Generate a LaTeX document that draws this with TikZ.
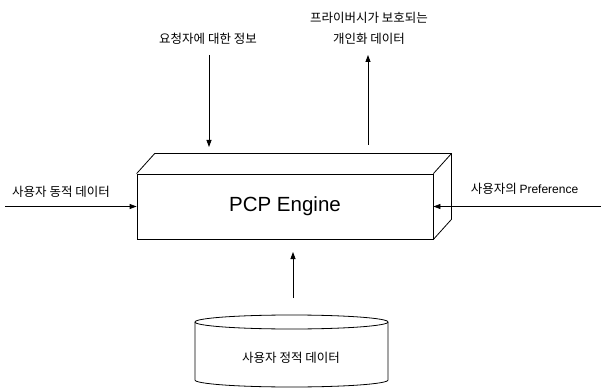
\documentclass[tikz,border=0pt]{standalone}
\usepackage{fontspec}
\setmainfont{Liberation Sans}
\newfontfamily\kr{Noto Sans CJK KR}
\usetikzlibrary{arrows.meta}
\begin{document}
\begin{tikzpicture}[x=1pt,y=1pt,
  line/.style={draw=black,line width=0.8pt},
  arr/.style={line, -{Triangle[length=7pt,width=5pt]}},
  lbl/.style={font=\kr\fontsize{12.5}{21}\selectfont, inner sep=0pt, align=center},
  engine/.style={draw=black,line width=0.8pt, minimum width=296pt, minimum height=65pt, inner sep=0pt,
    font=\fontsize{20.5}{24}\selectfont}]
\useasboundingbox (0,0) rectangle (601,391);
% engine box
\node[engine] (eng) at (285,184.5) {PCP Engine};
\coordinate (btl) at ([shift={(18,20)}]eng.north west);
\coordinate (btr) at ([shift={(18,20)}]eng.north east);
\coordinate (bbr) at ([shift={(18,20)}]eng.south east);
\draw[line] (eng.north west) -- (btl) -- (btr) -- (bbr) -- (eng.south east);
\draw[line] (btr) -- (eng.north east);
% database cylinder
\node[lbl] (db) at (291,33) {사용자 정적 데이터};
\draw[line] (195,69) -- (195,11) arc[start angle=180,end angle=360,x radius=96.5,y radius=7] -- (388,69);
\draw[line] (291.5,69) ellipse[x radius=96.5,y radius=7];
% labels
\node[lbl] (lreq) at (208,352) {요청자에 대한 정보};
\node[lbl] (lout) at (369,363) {프라이버시가 보호되는\\개인화 데이터};
\node[lbl] (ldyn) at (61,199) {사용자 동적 데이터};
\node[lbl] (lpref) at (524.5,202) {사용자의 {\fontspec{Liberation Sans}\fontsize{12}{14}\selectfont Preference}};
% arrow end points
\coordinate (reqS) at (209,336);
\coordinate (reqE) at (209,244);
\coordinate (outS) at (368,246);
\coordinate (outE) at (368,336);
\coordinate (dynS) at (5,184.5);
\coordinate (prefS) at (601,184.5);
\coordinate (dbS) at (293,93);
\coordinate (dbE) at (293,139);
\draw[arr] (reqS) -- (reqE);
\draw[arr] (outS) -- (outE);
\draw[arr] (dynS) -- (eng.west);
\draw[arr] (prefS) -- (eng.east);
\draw[arr] (dbS) -- (dbE);
\end{tikzpicture}
\end{document}
